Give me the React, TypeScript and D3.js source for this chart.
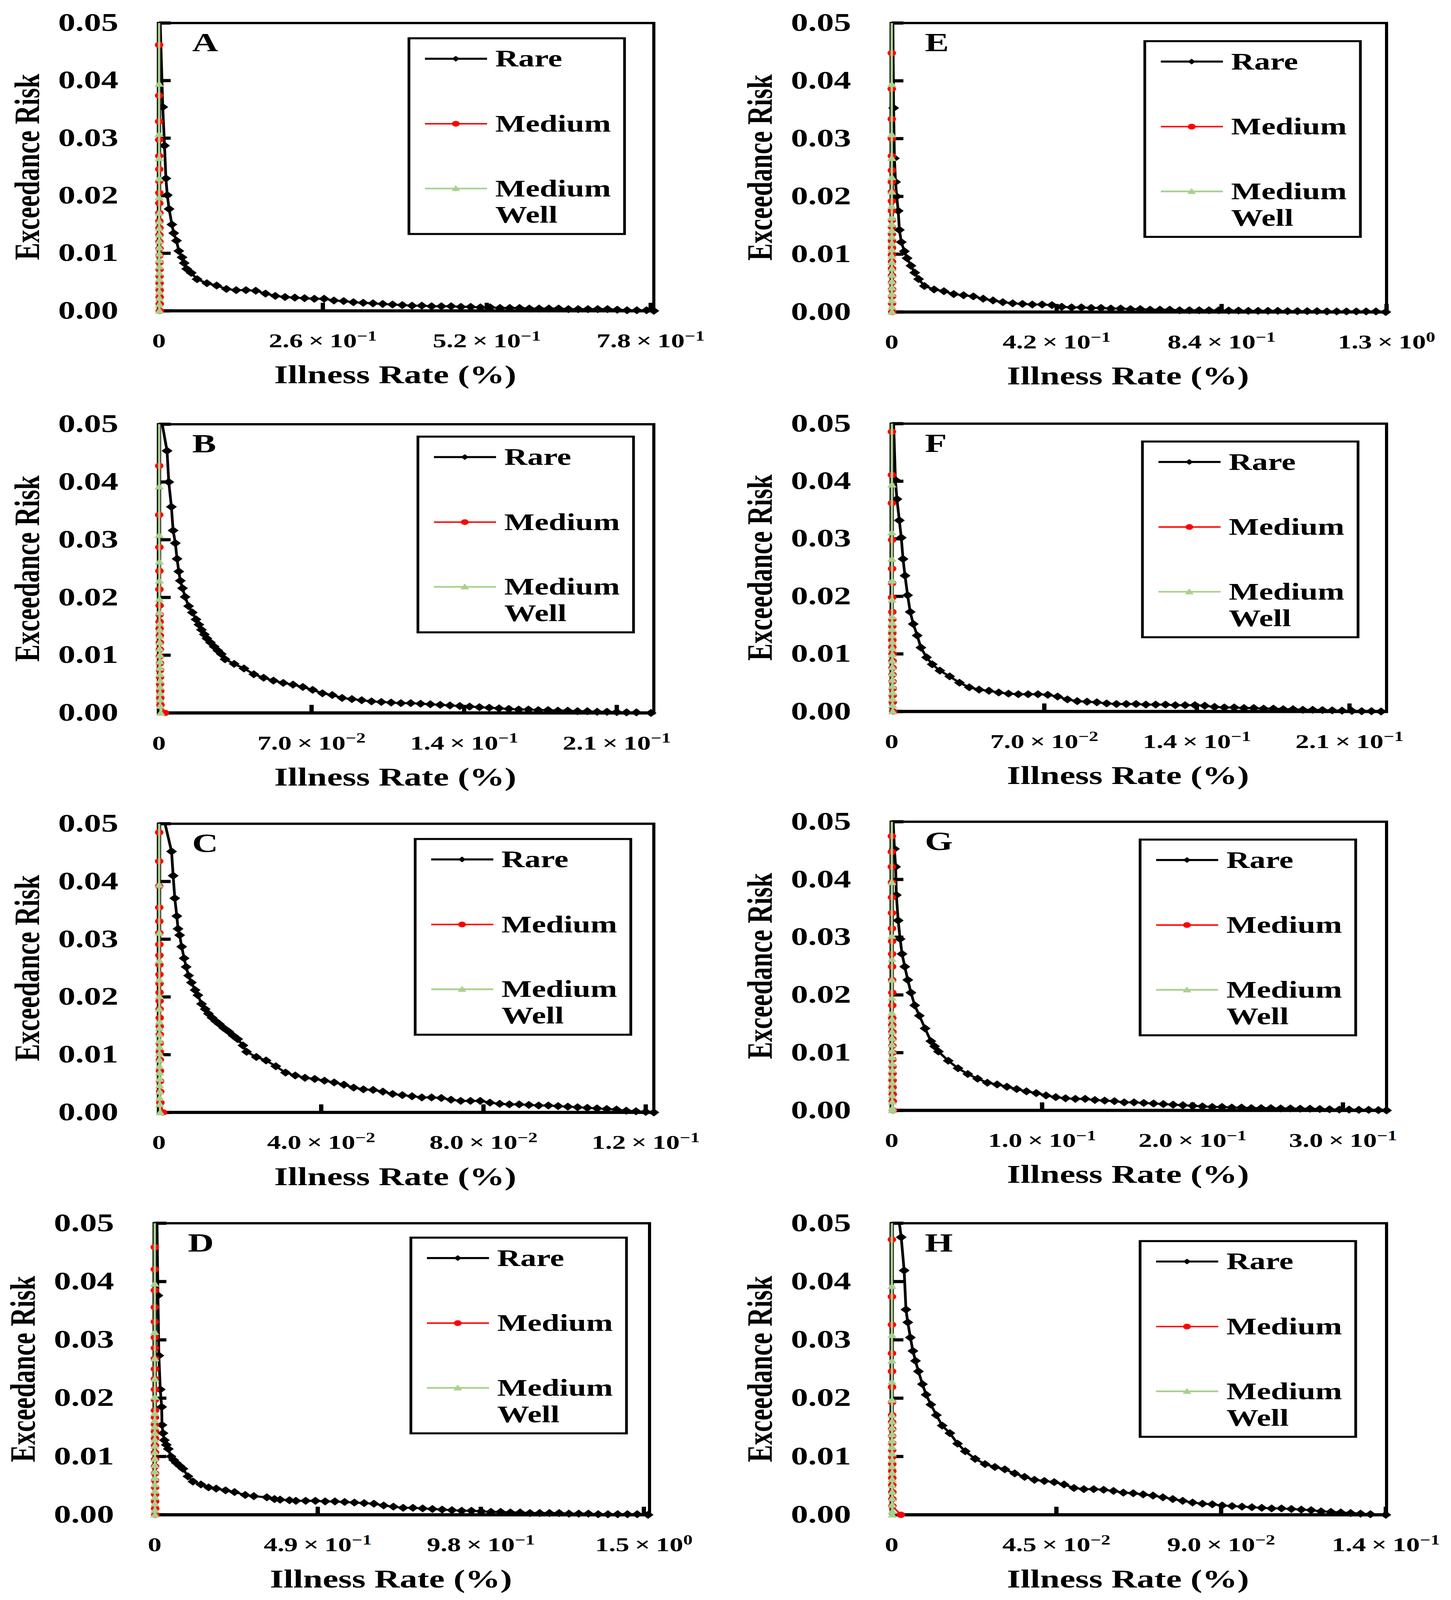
import React from 'react';
import * as d3 from 'd3';

// ---------- DATA ----------
const panelLetters = ['A', 'B', 'C', 'D', 'E', 'F', 'G', 'H'];
const seriesNames = ['Rare', 'Medium', 'Medium Well'];
const yTickValues = [0, 0.01, 0.02, 0.03, 0.04, 0.05];
const yTickLabels = ['0.00', '0.01', '0.02', '0.03', '0.04', '0.05'];
const yMax = 0.05;
const xMax = [0.785, 0.227, 0.122, 1.487, 1.26, 0.227, 0.329, 0.1352];
const xTickValues = [
  [0, 0.26, 0.52, 0.78],
  [0, 0.07, 0.14, 0.21],
  [0, 0.04, 0.08, 0.12],
  [0, 0.49, 0.98, 1.47],
  [0, 0.42, 0.84, 1.26],
  [0, 0.07, 0.14, 0.21],
  [0, 0.1, 0.2, 0.3],
  [0, 0.045, 0.09, 0.135],
];
const xTickMantissa = [
  ['0', '2.6', '5.2', '7.8'],
  ['0', '7.0', '1.4', '2.1'],
  ['0', '4.0', '8.0', '1.2'],
  ['0', '4.9', '9.8', '1.5'],
  ['0', '4.2', '8.4', '1.3'],
  ['0', '7.0', '1.4', '2.1'],
  ['0', '1.0', '2.0', '3.0'],
  ['0', '4.5', '9.0', '1.4'],
];
const xTickExponent = [
  ['', '\u22121', '\u22121', '\u22121'],
  ['', '\u22122', '\u22121', '\u22121'],
  ['', '\u22122', '\u22122', '\u22121'],
  ['', '\u22121', '\u22121', '0'],
  ['', '\u22121', '\u22121', '0'],
  ['', '\u22122', '\u22121', '\u22121'],
  ['', '\u22121', '\u22121', '\u22121'],
  ['', '\u22122', '\u22122', '\u22121'],
];
const xTitle = 'Illness Rate (%)';
const yTitle = 'Exceedance Risk';

// Rare (black diamonds)
const rareA = [[0.002,0.05],[0.006,0.0354],[0.0088,0.0287],[0.011,0.023],[0.0132,0.0201],[0.0161,0.0177],[0.0205,0.015],[0.0234,0.0135],[0.0278,0.0122],[0.0315,0.0104],[0.0366,0.0093],[0.04,0.0083],[0.0439,0.0073],[0.0512,0.0066],
  [0.0605,0.0055],[0.076,0.0048],[0.0915,0.0044],[0.107,0.0038],[0.1225,0.0036],[0.138,0.0036],[0.1535,0.0035],[0.169,0.003],[0.1845,0.0026],[0.2,0.0024],[0.2155,0.0023],[0.231,0.0022],[0.2465,0.0021],[0.262,0.0021],[0.2775,0.0018],[0.293,0.0017],[0.3085,0.0015],[0.324,0.0014],[0.3395,0.0013],[0.355,0.0012],[0.3705,0.0011],[0.386,0.001],[0.4015,0.0009],[0.417,0.0009],[0.4325,0.0008],[0.448,0.0008],[0.4635,0.0008],[0.479,0.0007],[0.4945,0.0007],[0.51,0.0006],[0.5255,0.0006],[0.541,0.0005],[0.5565,0.0005],[0.572,0.0005],[0.5875,0.0004],[0.603,0.0004],[0.6185,0.0004],[0.634,0.0004],[0.6495,0.0003],[0.665,0.0003],[0.6805,0.0003],[0.696,0.0003],[0.7115,0.0003],[0.727,0.0002],[0.7425,0.0001],[0.758,0.0001],[0.7735,0.0001],[0.785,0]];
const rareB = [[0.0015,0.05],[0.0037,0.0454],[0.0045,0.04],[0.0057,0.0357],[0.0065,0.0316],[0.0075,0.0294],[0.0083,0.0267],[0.0091,0.0245],[0.0098,0.0229],[0.0108,0.0216],[0.012,0.0201],[0.0136,0.0185],[0.0153,0.0174],[0.017,0.0162],[0.0183,0.0153],[0.0195,0.0144],[0.0208,0.0136],[0.022,0.0129],[0.0236,0.0122],[0.0253,0.0115],[0.027,0.0108],[0.0286,0.0102],
  [0.0303,0.0093],[0.0345,0.0085],[0.039,0.0077],[0.0435,0.0067],[0.048,0.0061],[0.0525,0.0056],[0.057,0.0052],[0.0615,0.0049],[0.066,0.0045],[0.0705,0.004],[0.075,0.0034],[0.0795,0.0031],[0.084,0.0026],[0.0885,0.0024],[0.093,0.0022],[0.0975,0.002],[0.102,0.0019],[0.1065,0.0018],[0.111,0.0017],[0.1155,0.0017],[0.12,0.0016],[0.1245,0.0015],[0.129,0.0014],[0.1335,0.0013],[0.138,0.0012],[0.1425,0.0011],[0.147,0.001],[0.1515,0.0009],[0.156,0.0008],[0.1605,0.0007],[0.165,0.0006],[0.1695,0.0006],[0.174,0.0005],[0.1785,0.0005],[0.183,0.0004],[0.1875,0.0004],[0.192,0.0003],[0.1965,0.0003],[0.201,0.0002],[0.2055,0.0002],[0.21,0.00015],[0.2145,0.0001],[0.219,0.0001],[0.2257,0]];
const rareC = [[0.0015,0.05],[0.0031,0.0452],[0.0035,0.041],[0.0039,0.0371],[0.0044,0.034],[0.0047,0.0318],[0.0051,0.0307],[0.0056,0.0287],[0.0062,0.0267],[0.0067,0.0252],[0.0073,0.0237],[0.008,0.0225],[0.0089,0.0212],[0.0096,0.0203],[0.0105,0.0188],[0.0114,0.0179],[0.0122,0.0171],[0.0131,0.0164],[0.014,0.0158],[0.0149,0.0153],[0.016,0.0146],[0.0172,0.014],[0.0183,0.0133],[0.0194,0.0127],[0.0207,0.0116],
  [0.0216,0.0105],[0.024,0.0096],[0.0264,0.009],[0.0288,0.008],[0.0312,0.0069],[0.0336,0.0064],[0.036,0.006],[0.0384,0.0058],[0.0408,0.0055],[0.0432,0.0052],[0.0456,0.0048],[0.048,0.0043],[0.0504,0.004],[0.0528,0.0039],[0.0552,0.0036],[0.0576,0.0032],[0.06,0.003],[0.0624,0.0028],[0.0648,0.0026],[0.0672,0.0026],[0.0696,0.0025],[0.072,0.0022],[0.0744,0.002],[0.0768,0.002],[0.0792,0.002],[0.0816,0.0017],[0.084,0.0015],[0.0864,0.0014],[0.0888,0.0014],[0.0912,0.0013],[0.0936,0.0012],[0.096,0.0012],[0.0984,0.0011],[0.1008,0.001],[0.1032,0.0009],[0.1056,0.0008],[0.108,0.0007],[0.1104,0.0006],[0.1128,0.0005],[0.1152,0.0003],[0.1176,0.0002],[0.12,0.0001],[0.122,0]];
const rareD = [[0.007,0.05],[0.0098,0.0376],[0.0126,0.0273],[0.0168,0.0215],[0.021,0.0185],[0.022,0.0154],[0.025,0.014],[0.029,0.0128],[0.035,0.012],[0.041,0.0113],[0.049,0.01],[0.057,0.0094],[0.065,0.0089],[0.075,0.0084],[0.085,0.0079],
  [0.1,0.0066],[0.115,0.0057],[0.139,0.0052],[0.162,0.0047],[0.185,0.0045],[0.213,0.0042],[0.24,0.0039],[0.272,0.0034],[0.298,0.0032],[0.337,0.003],[0.36,0.0027],[0.377,0.0026],[0.405,0.0025],[0.4244,0.0024],[0.4537,0.0024],[0.483,0.0024],[0.5123,0.0023],[0.5416,0.0023],[0.5709,0.0022],[0.6002,0.0021],[0.6295,0.002],[0.6588,0.0019],[0.6881,0.0016],[0.7174,0.0014],[0.7467,0.0012],[0.776,0.0012],[0.8053,0.0011],[0.8346,0.001],[0.8639,0.0009],[0.8932,0.0008],[0.9225,0.0007],[0.9518,0.0007],[0.9811,0.0006],[1.0104,0.0005],[1.0397,0.0005],[1.069,0.0004],[1.0983,0.0004],[1.1276,0.0003],[1.1569,0.0003],[1.1862,0.0003],[1.2155,0.0003],[1.2448,0.0002],[1.2741,0.0002],[1.3034,0.0002],[1.3327,0.0001],[1.362,0.0001],[1.3913,0.0001],[1.4206,0.0001],[1.4499,0.0001],[1.4826,0]];
const rareE = [[0.003,0.05],[0.0049,0.0353],[0.0069,0.0266],[0.0098,0.0225],[0.0127,0.02],[0.0166,0.0175],[0.0196,0.0142],[0.0245,0.0121],[0.0323,0.0105],[0.0392,0.0093],[0.049,0.008],[0.0587,0.0068],[0.0685,0.0057],
  [0.0832,0.0045],[0.108,0.0039],[0.133,0.0036],[0.158,0.0031],[0.183,0.0029],[0.208,0.0027],[0.233,0.0023],[0.258,0.002],[0.283,0.0017],[0.308,0.0015],[0.333,0.0014],[0.358,0.0013],[0.383,0.0013],[0.408,0.0012],[0.433,0.0009],[0.458,0.0008],[0.483,0.0008],[0.508,0.0007],[0.533,0.0007],[0.558,0.0006],[0.583,0.0006],[0.608,0.0005],[0.633,0.0005],[0.658,0.0004],[0.683,0.0004],[0.708,0.0004],[0.733,0.0003],[0.758,0.0003],[0.783,0.0003],[0.808,0.0003],[0.833,0.0003],[0.858,0.00025],[0.883,0.00025],[0.908,0.0002],[0.933,0.0002],[0.958,0.0002],[0.983,0.0002],[1.008,0.00015],[1.033,0.00015],[1.058,0.00015],[1.083,0.00015],[1.108,0.0001],[1.133,0.0001],[1.158,0.0001],[1.183,0.0001],[1.208,0.0001],[1.233,0.0001],[1.258,0]];
const rareF = [[0.0009,0.05],[0.0017,0.0402],[0.0024,0.0369],[0.0035,0.0332],[0.0044,0.0302],[0.0052,0.0265],[0.0061,0.0236],[0.0073,0.0202],[0.0085,0.0173],[0.0099,0.0152],[0.0117,0.0132],[0.0134,0.0111],[0.016,0.0094],[0.0186,0.0082],
  [0.0221,0.0071],[0.0266,0.0061],[0.0311,0.005],[0.0356,0.0042],[0.0401,0.0038],[0.0446,0.0036],[0.0491,0.0033],[0.0536,0.0031],[0.0581,0.003],[0.0626,0.003],[0.0671,0.003],[0.0716,0.0029],[0.0761,0.0026],[0.0806,0.0021],[0.0851,0.0018],[0.0896,0.0017],[0.0941,0.0016],[0.0986,0.0014],[0.1031,0.0013],[0.1076,0.0013],[0.1121,0.0013],[0.1166,0.0012],[0.1211,0.0012],[0.1256,0.0012],[0.1301,0.0011],[0.1346,0.0011],[0.1391,0.0011],[0.1436,0.001],[0.1481,0.0008],[0.1526,0.0007],[0.1571,0.0007],[0.1616,0.0006],[0.1661,0.0006],[0.1706,0.0005],[0.1751,0.0005],[0.1796,0.0004],[0.1841,0.0004],[0.1886,0.0003],[0.1931,0.0003],[0.1976,0.00025],[0.2021,0.0002],[0.2066,0.00015],[0.2111,0.0001],[0.2156,0.00005],[0.2201,0.00005],[0.2245,0]];
const rareG = [[0.001,0.05],[0.0018,0.0453],[0.0026,0.0422],[0.0031,0.0373],[0.0043,0.0329],[0.0056,0.0297],[0.0069,0.0271],[0.0087,0.0249],[0.0107,0.0226],[0.0128,0.0204],[0.0153,0.0182],[0.0184,0.0164],[0.0222,0.0142],[0.026,0.012],[0.0285,0.0111],
  [0.0311,0.0102],[0.0376,0.0086],[0.0441,0.0073],[0.0506,0.0063],[0.0571,0.0055],[0.0636,0.0048],[0.0701,0.0045],[0.0766,0.0041],[0.0831,0.0037],[0.0896,0.0033],[0.0961,0.003],[0.1026,0.0026],[0.1091,0.0023],[0.1156,0.0021],[0.1221,0.002],[0.1286,0.002],[0.1351,0.0018],[0.1416,0.0017],[0.1481,0.0016],[0.1546,0.0014],[0.1611,0.0014],[0.1676,0.0013],[0.1741,0.0012],[0.1806,0.0011],[0.1871,0.001],[0.1936,0.0009],[0.2001,0.0008],[0.2066,0.0007],[0.2131,0.0006],[0.2196,0.0006],[0.2261,0.0005],[0.2326,0.0005],[0.2391,0.0004],[0.2456,0.0004],[0.2521,0.0004],[0.2586,0.00035],[0.2651,0.00035],[0.2716,0.0003],[0.2781,0.0003],[0.2846,0.00025],[0.2911,0.0002],[0.2976,0.00015],[0.3041,0.00015],[0.3106,0.0001],[0.3171,0.0001],[0.3236,0.00005],[0.329,0]];
const rareH = [[0.0021,0.05],[0.0026,0.0476],[0.0034,0.0419],[0.0039,0.0352],[0.0044,0.033],[0.0051,0.0304],[0.0058,0.0281],[0.0065,0.0264],[0.0073,0.0246],[0.0084,0.0224],[0.0094,0.0206],[0.0107,0.0189],[0.0122,0.0171],[0.0138,0.0153],[0.0159,0.014],[0.018,0.0122],
  [0.0201,0.0109],[0.0228,0.0096],[0.0255,0.0087],[0.0282,0.0082],[0.0309,0.0078],[0.0336,0.0071],[0.0363,0.0065],[0.039,0.006],[0.0417,0.0058],[0.0444,0.0056],[0.0471,0.0052],[0.0498,0.0046],[0.0525,0.0044],[0.0552,0.0044],[0.0579,0.0043],[0.0606,0.0041],[0.0633,0.0038],[0.066,0.0037],[0.0687,0.0035],[0.0714,0.0033],[0.0741,0.003],[0.0768,0.0027],[0.0795,0.0024],[0.0822,0.0021],[0.0849,0.0019],[0.0876,0.0018],[0.0903,0.0016],[0.093,0.0015],[0.0957,0.0014],[0.0984,0.0013],[0.1011,0.0012],[0.1038,0.0011],[0.1065,0.0011],[0.1092,0.001],[0.1119,0.0009],[0.1146,0.0008],[0.1173,0.0006],[0.12,0.0005],[0.1227,0.0004],[0.1254,0.0003],[0.1281,0.0002],[0.1308,0.0001],[0.135,0]];

// Medium (red circles)
const mediumA = [[0.0002,0.0462],[0.0003,0.0374],[0.0003,0.0329],[0.0004,0.0297],[0.0004,0.0269],[0.0005,0.0246],[0.0005,0.0225],[0.0006,0.0205],[0.0006,0.0187],[0.0007,0.017],[0.0007,0.0156],[0.0008,0.0144],[0.0008,0.0132],[0.0008,0.012],[0.0009,0.0108],[0.0009,0.0096],[0.0009,0.0084],[0.001,0.0072],[0.001,0.006],[0.001,0.0048],[0.0011,0.0036],[0.0011,0.0024],[0.0012,0.0012],[0.0014,0]];
const mediumB = [[0.0001,0.0428],[0.0001,0.0343],[0.0002,0.0287],[0.0002,0.0246],[0.0002,0.0214],[0.0003,0.0186],[0.0003,0.017],[0.0003,0.0158],[0.0003,0.0146],[0.0004,0.0134],[0.0004,0.0122],[0.0004,0.011],[0.0004,0.0098],[0.0005,0.0086],[0.0005,0.0074],[0.0005,0.0062],[0.0005,0.005],[0.0006,0.0038],[0.0006,0.0026],[0.0007,0.0014],[0.0028,0]];
const mediumC = [[0.00005,0.0485],[0.00005,0.0435],[0.00006,0.0392],[0.00007,0.0355],[0.00008,0.0331],[0.00009,0.0311],[0.0001,0.0291],[0.00011,0.0272],[0.00012,0.0256],[0.00013,0.0239],[0.00014,0.0223],[0.00015,0.0208],[0.00016,0.0193],[0.00017,0.0179],[0.00018,0.0164],[0.00019,0.0149],[0.0002,0.0135],[0.00021,0.012],[0.00022,0.0105],[0.00023,0.0091],[0.00025,0.0072],[0.00027,0.0054],[0.0003,0.0036],[0.00035,0.0017],[0.001,0]];
const mediumD = [[0.0003,0.0459],[0.0003,0.0421],[0.0004,0.0385],[0.0004,0.0356],[0.0005,0.0331],[0.0005,0.0304],[0.0006,0.0286],[0.0006,0.0268],[0.0007,0.025],[0.0007,0.0233],[0.0008,0.0215],[0.0008,0.0197],[0.0009,0.0179],[0.0009,0.0167],[0.0009,0.0155],[0.001,0.0143],[0.001,0.0131],[0.001,0.0119],[0.0011,0.0107],[0.0011,0.0095],[0.0011,0.0083],[0.0012,0.0071],[0.0012,0.0059],[0.0013,0.0047],[0.0013,0.0035],[0.0014,0.0023],[0.0015,0.0011],[0.002,0]];
const mediumE = [[0.0002,0.0448],[0.0002,0.0386],[0.0003,0.0334],[0.0003,0.03],[0.0004,0.027],[0.0004,0.0245],[0.0005,0.0225],[0.0005,0.0208],[0.0006,0.0192],[0.0006,0.0175],[0.0007,0.0159],[0.0007,0.0147],[0.0007,0.0135],[0.0008,0.0123],[0.0008,0.0111],[0.0008,0.0099],[0.0009,0.0087],[0.0009,0.0075],[0.0009,0.0063],[0.001,0.0051],[0.001,0.0039],[0.001,0.0027],[0.0011,0.0015],[0.0015,0]];
const mediumF = [[0.0001,0.0486],[0.0001,0.0411],[0.0001,0.0362],[0.0002,0.0298],[0.0002,0.0248],[0.0002,0.0223],[0.0002,0.0198],[0.0003,0.0173],[0.0003,0.016],[0.0003,0.0148],[0.0003,0.0136],[0.0003,0.0124],[0.0003,0.0112],[0.0004,0.01],[0.0004,0.0088],[0.0004,0.0076],[0.0004,0.0064],[0.0004,0.0052],[0.0005,0.004],[0.0005,0.0028],[0.0005,0.0016],[0.0007,0]];
const mediumG = [[0.0001,0.0475],[0.0001,0.0448],[0.0001,0.0422],[0.0002,0.0395],[0.0002,0.0369],[0.0002,0.0342],[0.0002,0.0315],[0.0003,0.0293],[0.0003,0.0271],[0.0003,0.0249],[0.0003,0.0226],[0.0004,0.0204],[0.0004,0.0182],[0.0004,0.016],[0.0004,0.0148],[0.0005,0.0136],[0.0005,0.0124],[0.0005,0.0112],[0.0005,0.01],[0.0005,0.0088],[0.0006,0.0076],[0.0006,0.0064],[0.0006,0.0052],[0.0006,0.004],[0.0007,0.0028],[0.0007,0.0016],[0.0009,0]];
const mediumH = [[0.00005,0.0472],[0.00006,0.0374],[0.00007,0.0326],[0.00008,0.0277],[0.00009,0.0246],[0.0001,0.0219],[0.00011,0.0193],[0.00012,0.0171],[0.00012,0.0159],[0.00013,0.0147],[0.00013,0.0135],[0.00014,0.0123],[0.00014,0.0111],[0.00015,0.0099],[0.00015,0.0087],[0.00016,0.0075],[0.00016,0.0063],[0.00017,0.0051],[0.00018,0.0039],[0.00019,0.0027],[0.0002,0.0015],[0.0025,0]];

// Medium Well (green triangles)
const wellA = [[0.0002,0.05],[0.0002,0.0394],[0.0002,0.0307],[0.0003,0.0265],[0.0003,0.023],[0.0003,0.0197],[0.0004,0.017],[0.0004,0.0155],[0.0004,0.0143],[0.0004,0.0132],[0.0005,0.0121],[0.0005,0.011],[0.0005,0.0099],[0.0005,0.0088],[0.0006,0.0077],[0.0006,0.0066],[0.0006,0.0055],[0.0006,0.0044],[0.0007,0.0033],[0.0007,0.0022],[0.0007,0.0011],[0.0008,0]];
const wellB = [[0.0001,0.05],[0.0001,0.0392],[0.0001,0.0308],[0.0002,0.0262],[0.0002,0.0229],[0.0002,0.0197],[0.0002,0.0174],[0.0003,0.0155],[0.0003,0.0144],[0.0003,0.0133],[0.0003,0.0122],[0.0003,0.0111],[0.0004,0.01],[0.0004,0.0089],[0.0004,0.0078],[0.0004,0.0067],[0.0005,0.0056],[0.0005,0.0045],[0.0005,0.0034],[0.0005,0.0023],[0.0006,0.0012],[0.0008,0]];
const wellC = [[0.00005,0.05],[0.00005,0.0394],[0.00006,0.0311],[0.00007,0.0263],[0.00008,0.023],[0.00009,0.0201],[0.0001,0.0179],[0.00011,0.0157],[0.00011,0.0146],[0.00012,0.0135],[0.00012,0.0124],[0.00013,0.0113],[0.00013,0.0102],[0.00014,0.0091],[0.00014,0.008],[0.00015,0.0069],[0.00016,0.0058],[0.00017,0.0047],[0.00018,0.0036],[0.00019,0.0025],[0.00021,0.0014],[0.0003,0]];
const wellD = [[0.0003,0.05],[0.0003,0.0396],[0.0003,0.0313],[0.0004,0.0268],[0.0004,0.0233],[0.0005,0.0202],[0.0005,0.0174],[0.0005,0.0162],[0.0006,0.0151],[0.0006,0.014],[0.0006,0.0129],[0.0006,0.0118],[0.0007,0.0107],[0.0007,0.0096],[0.0007,0.0085],[0.0007,0.0074],[0.0008,0.0063],[0.0008,0.0052],[0.0008,0.0041],[0.0008,0.003],[0.0009,0.0019],[0.0009,0.0008],[0.001,0]];
const wellE = [[0.0002,0.05],[0.0002,0.0394],[0.0002,0.0307],[0.0003,0.0266],[0.0003,0.0233],[0.0003,0.0208],[0.0004,0.0183],[0.0004,0.0163],[0.0004,0.0152],[0.0004,0.0141],[0.0005,0.013],[0.0005,0.0119],[0.0005,0.0108],[0.0005,0.0097],[0.0005,0.0086],[0.0006,0.0075],[0.0006,0.0064],[0.0006,0.0053],[0.0006,0.0042],[0.0006,0.0031],[0.0007,0.002],[0.0007,0.0009],[0.0008,0]];
const wellF = [[0.0001,0.05],[0.0001,0.0394],[0.0001,0.0311],[0.0001,0.0265],[0.0002,0.0227],[0.0002,0.0194],[0.0002,0.0165],[0.0002,0.0154],[0.0002,0.0143],[0.0002,0.0132],[0.0003,0.0121],[0.0003,0.011],[0.0003,0.0099],[0.0003,0.0088],[0.0003,0.0077],[0.0003,0.0066],[0.0003,0.0055],[0.0004,0.0044],[0.0004,0.0033],[0.0004,0.0022],[0.0004,0.0011],[0.0005,0]];
const wellG = [[0.0001,0.05],[0.0001,0.0395],[0.0001,0.0302],[0.0002,0.0262],[0.0002,0.0226],[0.0002,0.0195],[0.0002,0.0169],[0.0003,0.0158],[0.0003,0.0147],[0.0003,0.0136],[0.0003,0.0125],[0.0003,0.0114],[0.0003,0.0103],[0.0003,0.0092],[0.0004,0.0081],[0.0004,0.007],[0.0004,0.0059],[0.0004,0.0048],[0.0004,0.0037],[0.0004,0.0026],[0.0004,0.0015],[0.0005,0.0004],[0.0005,0]];
const wellH = [[0.00005,0.05],[0.00005,0.0392],[0.00006,0.0308],[0.00007,0.0264],[0.00008,0.0228],[0.00009,0.0197],[0.0001,0.0171],[0.0001,0.016],[0.00011,0.0149],[0.00011,0.0138],[0.00012,0.0127],[0.00012,0.0116],[0.00013,0.0105],[0.00013,0.0094],[0.00013,0.0083],[0.00014,0.0072],[0.00014,0.0061],[0.00015,0.005],[0.00015,0.0039],[0.00016,0.0028],[0.00016,0.0017],[0.00017,0.0006],[0.0002,0]];

const rareSeries = [rareA, rareB, rareC, rareD, rareE, rareF, rareG, rareH];
const mediumSeries = [mediumA, mediumB, mediumC, mediumD, mediumE, mediumF, mediumG, mediumH];
const wellSeries = [wellA, wellB, wellC, wellD, wellE, wellF, wellG, wellH];

// ---------- LAYOUT / STYLE ----------
const W = 3715;
const H = 5559;
const PANEL_BOX = [
  [407, 80, 1000], [407, 1474, 1003], [407, 2862, 1003], [396, 4250, 1013],
  [2283, 80, 1004], [2283, 1472, 1000], [2283, 2855, 1003], [2283, 4250, 1013],
];
const PW = 1267;
const LEGEND_POS = [[640, 53], [663, 43], [656, 53], [656, 50], [648, 63], [642, 62], [636, 62], [636, 62]];
const LEGEND_W = 552;
const LEGEND_H = 680;
const FONT = "'Liberation Serif', 'Times New Roman', serif";
const BLACK = '#000000';
const RED = '#FF0000';
const GREEN = '#A9D18E';
const MARKER_R = [14, 11, 12];
const LEGEND_MARKER_R = [10, 10, 11];
const LINE_W = [7, 5, 6];

if (typeof document !== 'undefined') {
  document.body.style.margin = '0';
  document.body.style.overflow = 'hidden';
}

const diamond = (r: number) => `M0,${-r}L${r},0L0,${r}L${-r},0Z`;
const triangle = (r: number) => `M0,${-r * 1.05}L${r},${r * 0.8}L${-r},${r * 0.8}Z`;

function Marker({ kind, x, y, r }: { kind: number; x: number; y: number; r: number }) {
  if (kind === 0) return <path d={diamond(r)} transform={`translate(${x},${y})`} fill={BLACK} />;
  if (kind === 1) return <circle cx={x} cy={y} r={r} fill={RED} />;
  return <path d={triangle(r)} transform={`translate(${x},${y})`} fill={GREEN} />;
}

function Panel({ i }: { i: number }) {
  const [left, top, PH] = PANEL_BOX[i];
  const x = d3.scaleLinear().domain([0, xMax[i]]).range([0, PW]);
  const y = d3.scaleLinear().domain([0, yMax]).range([PH, 0]);
  const line = d3.line<number[]>().x((d) => x(d[0])).y((d) => y(d[1]));
  const series = [rareSeries[i], mediumSeries[i], wellSeries[i]];
  const colors = [BLACK, RED, GREEN];
  const [lx, ly] = LEGEND_POS[i];
  const legendRows = [71, 297, 522];

  return (
    <g transform={`translate(${left},${top})`}>
      <rect x={0} y={0} width={PW} height={PH} fill="none" stroke={BLACK} strokeWidth={8} />
      <line x1={0} y1={-4} x2={0} y2={PH + 5} stroke={BLACK} strokeWidth={11} />
      <line x1={-5} y1={PH} x2={PW + 4} y2={PH} stroke={BLACK} strokeWidth={11} />
      {yTickValues.map((v) => (
        <line key={`yt${v}`} x1={0} x2={30} y1={y(v)} y2={y(v)} stroke={BLACK} strokeWidth={11} />
      ))}
      {xTickValues[i].slice(1).map((v) => (
        <line key={`xt${v}`} x1={x(v)} x2={x(v)} y1={PH} y2={PH - 28} stroke={BLACK} strokeWidth={11} />
      ))}
      {yTickValues.map((v, k) => (
        <text key={`yl${v}`} x={-104} y={y(v)} dy="0.31em" textAnchor="end" fontFamily={FONT} fontWeight="bold" fontSize={88} fill={BLACK}>
          {yTickLabels[k]}
        </text>
      ))}
      {xTickValues[i].map((v, k) => (
        <text key={`xl${v}`} x={x(v)} y={PH + 127} textAnchor="middle" fontFamily={FONT} fontWeight="bold" fontSize={70} fill={BLACK}>
          {xTickMantissa[i][k]}
          {xTickExponent[i][k] !== '' && <tspan>{'\u2009\u00d7\u200910'}</tspan>}
          {xTickExponent[i][k] !== '' && (
            <tspan dy={-24} fontSize={48}>
              {xTickExponent[i][k]}
            </tspan>
          )}
        </text>
      ))}
      <text x={605} y={PH + 252} textAnchor="middle" fontFamily={FONT} fontWeight="bold" fontSize={90} fill={BLACK}>
        {xTitle}
      </text>
      <text transform={`translate(-307,${PH / 2}) rotate(-90)`} textAnchor="middle" fontFamily={FONT} fontWeight="bold" fontSize={90} fill={BLACK}>
        {yTitle}
      </text>
      {series.map((s, k) => (
        <g key={`s${k}`}>
          <path d={line(s) || ''} fill="none" stroke={colors[k]} strokeWidth={LINE_W[k]} strokeLinejoin="round" />
          {s
            .filter((d) => d[1] < yMax)
            .map((d, j) => (
              <Marker key={j} kind={k} x={x(d[0])} y={y(d[1])} r={MARKER_R[k]} />
            ))}
        </g>
      ))}
      <text x={85} y={98} fontFamily={FONT} fontWeight="bold" fontSize={92} fill={BLACK}>
        {panelLetters[i]}
      </text>
      <g transform={`translate(${lx},${ly})`}>
        <rect x={0} y={0} width={LEGEND_W} height={LEGEND_H} fill="#FFFFFF" stroke={BLACK} strokeWidth={7} />
        {seriesNames.map((name, k) => (
          <g key={name}>
            <line x1={41} x2={200} y1={legendRows[k]} y2={legendRows[k]} stroke={colors[k]} strokeWidth={LINE_W[k]} />
            <Marker kind={k} x={120} y={legendRows[k]} r={LEGEND_MARKER_R[k]} />
            {name === 'Medium Well' ? (
              <text x={221} y={legendRows[k]} dy="0.33em" fontFamily={FONT} fontWeight="bold" fontSize={82} fill={BLACK}>
                <tspan x={221}>Medium</tspan>
                <tspan x={221} dy={92}>Well</tspan>
              </text>
            ) : (
              <text x={221} y={legendRows[k]} dy="0.33em" fontFamily={FONT} fontWeight="bold" fontSize={82} fill={BLACK}>
                {name}
              </text>
            )}
          </g>
        ))}
      </g>
    </g>
  );
}

export default function App() {
  // The visible viewport may be shorter than the chart; fit the whole figure into it.
  const vw = typeof window !== 'undefined' ? Math.min(window.innerWidth || W, W) : W;
  const vh = typeof window !== 'undefined' ? Math.min(window.innerHeight || H, H) : H;
  return (
    <svg
      width={vw}
      height={vh}
      viewBox={`0 0 ${W} ${H}`}
      preserveAspectRatio="none"
      style={{ display: 'block', background: '#FFFFFF' }}
    >
      <rect x={0} y={0} width={W} height={H} fill="#FFFFFF" />
      {panelLetters.map((_, i) => (
        <Panel key={i} i={i} />
      ))}
    </svg>
  );
}
